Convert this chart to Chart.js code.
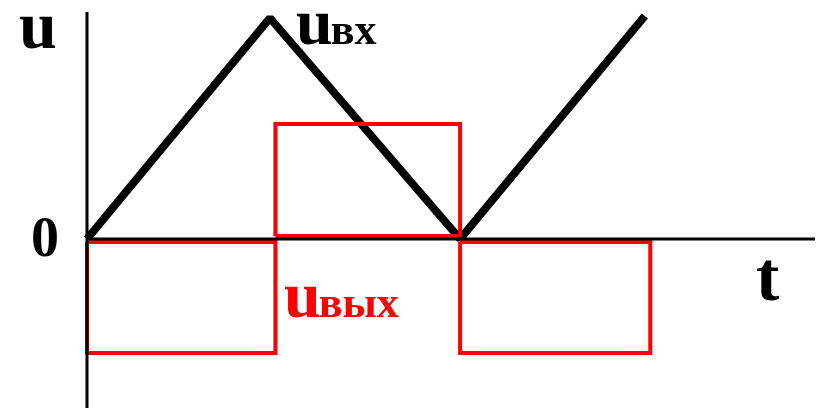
<!DOCTYPE html>
<html>
<head>
<meta charset="utf-8">
<script src="https://cdn.jsdelivr.net/npm/chart.js@4"></script>
<style>
  html, body { margin: 0; padding: 0; background: #fff; }
  #wrap { width: 825px; height: 408px; }
</style>
</head>
<body>
<div id="wrap"><canvas id="chart"></canvas></div>
<script>
// input signal (triangle): breakpoints in time and level
var inT = [0, 2.01, 4.10, 6.13];
var inU = [0, 2.21, 0, 2.23];
// output signal (square): switching times and level of each half period
var outT = [0, 2.07, 4.10, 6.19];
var outU = [-1.14, 1.15, -1.14];
var edge = 0.03; // the rectangles sit just off the axis

var inPts = [];
for (var i = 0; i < inT.length; i++) inPts.push({x: inT[i], y: inU[i]});

var outPts = [];
for (var k = 0; k < outU.length; k++) {
  var a = outT[k], b = outT[k + 1], lv = outU[k];
  var base = lv < 0 ? -edge : edge;
  outPts.push({x: a, y: base}, {x: a, y: lv}, {x: b, y: lv}, {x: b, y: base}, {x: a, y: base});
  if (k < outU.length - 1) outPts.push({x: b, y: null});
}

var axesAndText = {
  id: 'axesAndText',
  afterDatasetsDraw: function(chart) {
    var c = chart.ctx, sx = chart.scales.x, sy = chart.scales.y;
    var x0 = sx.getPixelForValue(0), y0 = sy.getPixelForValue(0);
    c.save();
    c.strokeStyle = '#000';
    c.lineWidth = 3;
    c.beginPath();
    c.moveTo(x0, sy.getPixelForValue(2.27));
    c.lineTo(x0, chart.height);
    c.moveTo(x0, y0);
    c.lineTo(sx.getPixelForValue(8.0), y0);
    c.stroke();

    c.textBaseline = 'alphabetic';
    c.textAlign = 'left';
    c.fillStyle = '#000';
    c.font = 'bold 68px "Liberation Serif"';
    c.fillText('u', 19, 48);
    c.font = 'bold 56px "Liberation Serif"';
    c.fillText('0', 31, 256);
    c.font = 'bold 70px "Liberation Serif"';
    c.fillText('t', 756, 300);

    c.font = 'bold 66px "Liberation Serif"';
    c.fillText('u', 296, 44);
    var w = c.measureText('u').width;
    c.font = 'bold 44px "Liberation Serif"';
    c.fillText('вх', 296 + w - 2, 44);

    c.fillStyle = '#ff0000';
    c.font = 'bold 66px "Liberation Serif"';
    c.fillText('u', 284, 317);
    w = c.measureText('u').width;
    c.font = 'bold 44px "Liberation Serif"';
    c.fillText('вых', 284 + w - 2, 317);
    c.restore();
  }
};

var ctx = document.getElementById('chart').getContext('2d');
var chart = new Chart(ctx, {
  type: 'scatter',
  data: {
    datasets: [{
      label: 'uвых',
      data: outPts,
      showLine: true,
      spanGaps: false,
      borderColor: '#ff0000',
      borderWidth: 4,
      pointRadius: 0,
      borderJoinStyle: 'miter'
    }, {
      label: 'uвх',
      data: inPts,
      showLine: true,
      borderColor: '#000',
      borderWidth: 8,
      pointRadius: 0,
      borderJoinStyle: 'bevel'
    }]
  },
  options: {
    responsive: true,
    maintainAspectRatio: false,
    animation: false,
    layout: { padding: 0 },
    plugins: {
      legend: { display: false },
      tooltip: { enabled: false }
    },
    scales: {
      x: { type: 'linear', display: false, min: -0.956, max: 8.11 },
      y: { type: 'linear', display: false, min: -1.69, max: 2.39 }
    }
  },
  plugins: [axesAndText]
});
</script>
</body>
</html>
